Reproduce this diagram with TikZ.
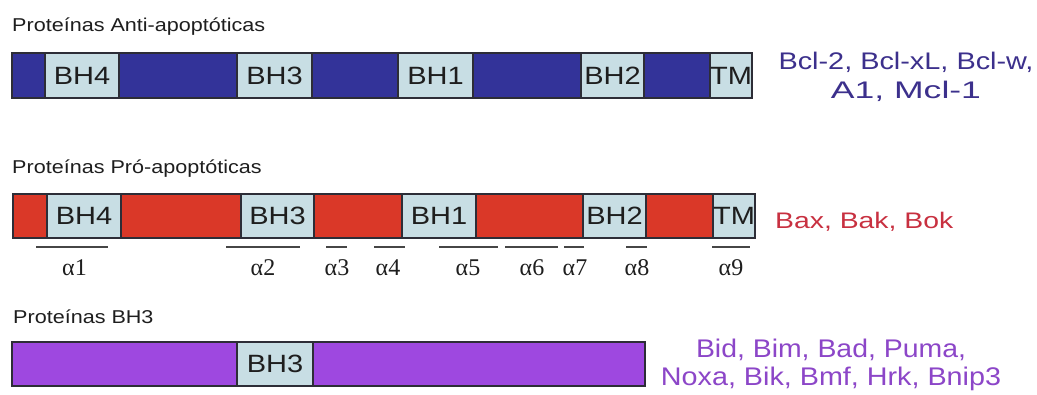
\documentclass[tikz,border=0pt]{standalone}
\usepackage{fontspec}
\usepackage{graphicx}
\setmainfont{Liberation Sans}
\newfontfamily\helixfont{Liberation Serif}

\definecolor{antiblue}{RGB}{51,51,153}
\definecolor{prored}{RGB}{218,56,40}
\definecolor{bhpurple}{RGB}{158,72,224}
\definecolor{domainfill}{RGB}{200,222,228}
\definecolor{edgegray}{RGB}{45,45,55}
\definecolor{inkgray}{RGB}{30,30,30}
\definecolor{helixgray}{RGB}{70,70,70}
\definecolor{antitext}{RGB}{60,48,140}
\definecolor{protext}{RGB}{200,48,64}
\definecolor{bhtext}{RGB}{140,70,200}

% slightly widened lettering
\newcommand\wide[1]{\scalebox{1.16}[1]{#1}}
\newcommand\fitw[2]{\resizebox{#1}{\height}{#2}}

% a domain box from x #2..#3 and y #4..#5
\newcommand\domainbox[6]{%
  \node[dombox, minimum width={(#3-#2)*1pt}, minimum height={(#5-#4)*1pt}]
    (#1) at ({(#2+#3)/2},{(#4+#5)/2}) {\wide{#6}};}

\tikzset{
  chainbar/.style={draw=edgegray, line width=1.5pt, inner sep=0pt, outer sep=0pt,
    anchor=north west},
  dombox/.style={draw=edgegray, line width=1.5pt, fill=domainfill, inner sep=0pt,
    outer sep=0pt, text=inkgray, font=\fontsize{25}{25}\selectfont},
  grouptitle/.style={anchor=base west, inner sep=0pt, text=inkgray,
    font=\fontsize{18.6}{20}\selectfont},
  famlabel/.style={inner sep=0pt, align=center},
  helixline/.style={draw=helixgray, line width=2pt},
  helixlabel/.style={anchor=base, inner sep=0pt, text=inkgray,
    font=\helixfont\fontsize{24}{25}\selectfont},
}

\begin{document}
\begin{tikzpicture}[x=1pt, y=-1pt]
\useasboundingbox[fill=white] (0,0) rectangle (1037,394);

% --- anti-apoptotic proteins
\node[grouptitle] (t-anti) at (12,31) {\wide{Proteínas Anti-apoptóticas}};
\node[chainbar, fill=antiblue, minimum width=740pt, minimum height=45pt] (anti) at (12,53) {};
\domainbox{anti-bh4}{45}{119}{53}{98}{BH4}
\domainbox{anti-bh3}{237}{312}{53}{98}{BH3}
\domainbox{anti-bh1}{398}{473}{53}{98}{BH1}
\domainbox{anti-bh2}{581}{644}{53}{98}{BH2}
\domainbox{anti-tm}{710}{752}{53}{98}{TM}
\node[famlabel, text=antitext, font=\fontsize{24}{29}\selectfont] (f-anti) at (906,76.5)
  {\fitw{255pt}{Bcl-2, Bcl-xL, Bcl-w,}\\ \fitw{150pt}{A1, Mcl-1}};

% --- pro-apoptotic proteins
\node[grouptitle] (t-pro) at (12,173) {\wide{Proteínas Pró-apoptóticas}};
\node[chainbar, fill=prored, minimum width=742pt, minimum height=44pt] (pro) at (13,194) {};
\domainbox{pro-bh4}{47}{121}{194}{238}{BH4}
\domainbox{pro-bh3}{241}{314}{194}{238}{BH3}
\domainbox{pro-bh1}{402}{476}{194}{238}{BH1}
\domainbox{pro-bh2}{583}{646}{194}{238}{BH2}
\domainbox{pro-tm}{713}{755}{194}{238}{TM}
\node[anchor=base west, inner sep=0pt, text=protext, font=\fontsize{22.5}{23}\selectfont]
  (f-pro) at (775,228.5) {\fitw{178pt}{Bax, Bak, Bok}};

% alpha helices under the pro-apoptotic chain
\foreach \i/\a/\b/\c in {1/36/108/74.5, 2/226/300/263, 3/326/347/337,
    4/374/405/388, 5/439/498/468, 6/505/558/532, 7/564/584/575,
    8/626/647/637, 9/712/750/731} {
  \coordinate (h\i-l) at (\a,247);
  \coordinate (h\i-r) at (\b,247);
  \draw[helixline] (h\i-l) -- (h\i-r);
  \node[helixlabel] (h\i) at (\c,275) {α\i};
}

% --- BH3-only proteins
\node[grouptitle] (t-bh3) at (13,323) {\wide{Proteínas BH3}};
\node[chainbar, fill=bhpurple, minimum width=633pt, minimum height=44pt] (bh3only) at (12,342) {};
\domainbox{bh3-bh3}{237}{313}{342}{386}{BH3}
\node[famlabel, text=bhtext, font=\fontsize{25.5}{28}\selectfont] (f-bh3) at (831,364.5)
  {\fitw{270pt}{Bid, Bim, Bad, Puma,}\\ \fitw{340pt}{Noxa, Bik, Bmf, Hrk, Bnip3}};
\end{tikzpicture}
\end{document}
